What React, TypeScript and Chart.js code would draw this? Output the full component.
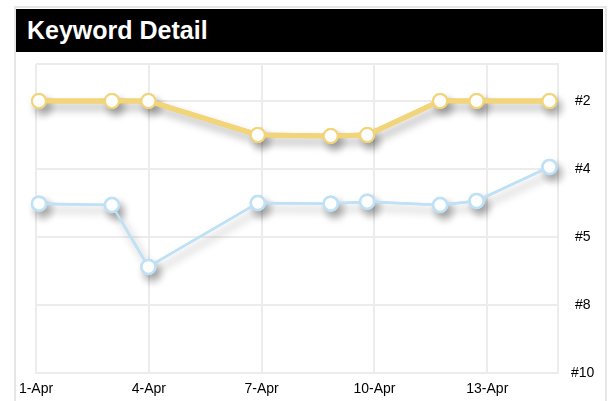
import React, { useEffect, useRef } from "react";
import { Chart, registerables } from "chart.js";
Chart.register(...registerables);

// April days of each observation
const days = [1, 3, 4, 7, 9, 10, 12, 13, 15];
// keyword rank series
const yellowRanks = [2, 2, 2, 3, 3.03, 3, 2, 2, 2];
const blueRanks = [4.51, 4.53, 6.32, 4.5, 4.51, 4.48, 4.53, 4.47, 3.94];
// y axis ticks (ranks) and labels
const rankTicks = [2, 4, 5, 8, 10];
const rankLabels = ["#2", "#4", "#5", "#8", "#10"];
// x axis ticks (days) and labels
const dayTicks = [1, 4, 7, 10, 13];
const dayLabels = ["1-Apr", "4-Apr", "7-Apr", "10-Apr", "13-Apr"];

const FONT = '"Liberation Sans", Arial, Helvetica, sans-serif';
const GRID = "#ececec";
const YELLOW = "#f2d479";
const BLUE = "#bfe1f6";

function rankToPos(r: number): number {
  for (let i = 0; i < rankTicks.length - 1; i++) {
    const a = rankTicks[i];
    const b = rankTicks[i + 1];
    if (r <= b || i === rankTicks.length - 2) {
      return i + (r - a) / (b - a);
    }
  }
  return 0;
}

// draws a blurred drop-shadow copy of each dataset, then the clean dataset on top
const shadowPlugin = {
  id: "shadowPlugin",
  beforeDatasetDraw(chart: any, args: any) {
    const ctx = chart.ctx;
    ctx.save();
    ctx.shadowColor = "rgba(0,0,0,0.32)";
    ctx.shadowBlur = 8;
    ctx.shadowOffsetX = 4;
    ctx.shadowOffsetY = 6;
    args.meta.controller.draw();
    ctx.restore();
  },
};

export default function App() {
  const ref = useRef<HTMLCanvasElement | null>(null);

  useEffect(() => {
    if (!ref.current) return;
    const yellowData = days.map((d, i) => ({ x: d, y: rankToPos(yellowRanks[i]) }));
    const blueData = days.map((d, i) => ({ x: d, y: rankToPos(blueRanks[i]) }));
    const chart = new Chart(ref.current, {
      type: "line",
      data: {
        datasets: [
          {
            data: blueData,
            borderColor: BLUE,
            borderWidth: 2.5,
            pointRadius: 7,
            pointBorderWidth: 2.5,
            pointBackgroundColor: "#ffffff",
            pointBorderColor: BLUE,
            tension: 0,
            clip: false,
            xAxisID: "x",
            yAxisID: "y",
          } as any,
          {
            data: yellowData,
            borderColor: YELLOW,
            borderWidth: 5,
            pointRadius: 7,
            pointBorderWidth: 2,
            pointBackgroundColor: "#ffffff",
            pointBorderColor: YELLOW,
            tension: 0,
            clip: false,
            xAxisID: "x",
            yAxisID: "y",
          } as any,
        ],
      },
      options: {
        responsive: false,
        animation: false,
        devicePixelRatio: 1,
        layout: { padding: { left: 36, top: 64, right: 0, bottom: 0 } },
        plugins: { legend: { display: false }, tooltip: { enabled: false } },
        scales: {
          x: {
            type: "linear",
            display: false,
            min: 0.918,
            max: 15.233,
          },
          xg: {
            type: "linear",
            position: "bottom",
            min: 1,
            max: 14.88,
            afterBuildTicks: (scale: any) => {
              scale.ticks = dayTicks.map((v) => ({ value: v }));
            },
            afterFit: (scale: any) => {
              scale.height = 28;
            },
            grid: { color: GRID, lineWidth: 2, drawTicks: false },
            border: { color: GRID, width: 2 },
            ticks: {
              autoSkip: false,
              maxRotation: 0,
              padding: 8,
              color: "#000",
              font: { family: FONT, size: 14 },
              callback: (_v: any, i: number) => dayLabels[i],
            },
          } as any,
          y: {
            type: "linear",
            position: "right",
            reverse: true,
            min: -0.544,
            max: 4,
            afterBuildTicks: (scale: any) => {
              scale.ticks = [-0.544, 0, 1, 2, 3, 4].map((v) => ({ value: v }));
            },
            afterFit: (scale: any) => {
              scale.width = 53;
            },
            grid: { color: GRID, lineWidth: 2, drawTicks: false },
            border: { color: GRID, width: 2 },
            ticks: {
              autoSkip: false,
              crossAlign: "center",
              padding: 13,
              color: "#000",
              font: { family: FONT, size: 14 },
              callback: (_v: any, i: number) => (i === 0 ? "" : rankLabels[i - 1]),
            },
          } as any,
        },
      },
      plugins: [shadowPlugin],
    });
    return () => chart.destroy();
  }, []);

  return (
    <div>
      <div
        style={{
          position: "absolute",
          left: 14,
          top: 6,
          width: 593,
          height: 395,
          boxSizing: "border-box",
          borderTop: "2px solid #e6e6e6",
          borderLeft: "2px solid #e6e6e6",
          borderRight: "2px solid #e6e6e6",
          background: "#fff",
        }}
      >
        <div
          style={{
            position: "absolute",
            left: 0,
            top: 1,
            width: 587,
            height: 43,
            background: "#000",
            color: "#fff",
            fontFamily: FONT,
            fontWeight: "bold",
            fontSize: 25,
            lineHeight: "43px",
            paddingLeft: 11,
            boxSizing: "border-box",
            whiteSpace: "nowrap",
          }}
        >
          Keyword Detail
        </div>
      </div>
      <canvas
        ref={ref}
        width={611}
        height={401}
        style={{ position: "absolute", left: 0, top: 0, width: 611, height: 401 }}
      />
    </div>
  );
}
